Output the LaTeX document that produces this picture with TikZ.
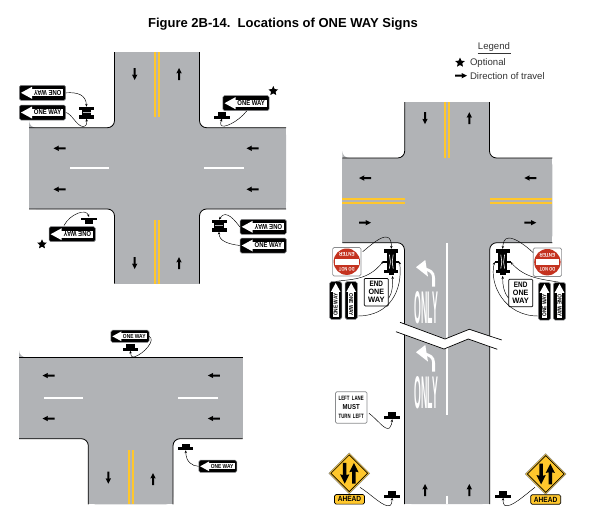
\documentclass[tikz,border=0pt]{standalone}
\usepackage{fontspec}
\setmainfont{Liberation Sans}
\usetikzlibrary{arrows.meta,shapes.geometric}
\definecolor{roadgray}{HTML}{B1B3B6}
\definecolor{lineyellow}{HTML}{FFC72C}
\definecolor{signred}{HTML}{C4321F}
\definecolor{rimgray}{HTML}{8A8C8E}
\tikzset{
  road/.style={fill=roadgray},
  curb/.style={draw=black,line width=0.8pt,rounded corners=7pt},
  yline/.style={draw=lineyellow,line width=1.8pt},
  wline/.style={draw=white,line width=1.7pt},
  conn/.style={draw=black,line width=0.45pt,-{Stealth[length=2.8pt,width=2.4pt]}},
  signbody/.style={rectangle,rounded corners=1.6pt,fill=black,draw=rimgray,line width=0.5pt,inner sep=0pt},
  postbase/.style={rectangle,inner sep=0pt},
  whitesign/.style={rectangle,rounded corners=1.5pt,fill=white,draw=rimgray,line width=0.7pt,inner sep=0pt},
  plain/.style={inner sep=0pt,outer sep=0pt},
  starmark/.style={star,star points=5,star point ratio=2.1,fill=black,inner sep=0pt,minimum size=10pt},
  lab/.style={inner sep=0pt,outer sep=0pt,font=\fontsize{9.6}{11}\selectfont,text=black!80},
}
\newcommand{\fitw}[3]{\resizebox{#1pt}{#2pt}{\bfseries #3}}
% name x y scale rotate textangle
\newcommand{\oneway}[6]{%
  \node[signbody,minimum width={46.4pt*#4},minimum height={15pt*#4},rotate=#5] (#1) at (#2,#3) {};
  \begin{scope}[shift={(#1.center)},rotate=#5,scale=#4]
    \fill[white] (-21.5,0) -- (-10.5,-6) -- (-10.5,6) -- cycle;
    \fill[white] (-11,-3.6) rectangle (20.8,3.6);
    \node[plain,transform shape,rotate=#6] (#1t) at (5.2,0) {\fitw{27.5}{5}{ONE WAY}};
  \end{scope}}
% road direction arrow: x y angle scale
\newcommand{\darr}[4]{%
  \begin{scope}[shift={(#1,#2)},rotate=#3,scale=#4]
    \fill[black] (-6,-1) -- (1,-1) -- (0.6,-2.7) -- (6,0) -- (0.6,2.7) -- (1,1) -- (-6,1) -- cycle;
  \end{scope}}
% single support: name x y flip
\newcommand{\postS}[4]{%
  \node[postbase,minimum width=15.5pt,minimum height=6.6pt] (#1) at (#2,#3) {};
  \begin{scope}[shift={(#1.center)},yscale=#4]
    \fill[black] (-7.75,0.4) rectangle (7.75,3.3);
    \fill[black] (-4.2,-3.3) rectangle (4.2,0.5);
  \end{scope}}
% double support, small
\newcommand{\postD}[3]{%
  \node[postbase,minimum width=15pt,minimum height=11.6pt] (#1) at (#2,#3) {};
  \begin{scope}[shift={(#1.center)}]
    \fill[black] (-7.5,-5.8) rectangle (7.5,-2.5);
    \fill[black] (-7.5,2.5) rectangle (7.5,5.8);
    \fill[black] (-4.7,-2.6) rectangle (4.7,2.6);
    \fill[roadgray] (-4,-0.3) rectangle (4,0.3);
  \end{scope}}
% double support, tall
\newcommand{\postT}[3]{%
  \node[postbase,minimum width=14pt,minimum height=26pt] (#1) at (#2,#3) {};
  \begin{scope}[shift={(#1.center)}]
    \fill[black] (-7,-13) rectangle (7,-9.4);
    \fill[black] (-7,8) rectangle (7,11.4);
    \fill[black] (-2.8,11) rectangle (2.8,13);
    \fill[black] (-4.6,-10) rectangle (4.6,9);
    \fill[black] (-8,-1) rectangle (-3.5,1);
    \fill[black] (3.5,-1) rectangle (8,1);
    \fill[white] (-2.2,-7.5) -- (-1.6,-7.5) -- (-0.6,0) -- (-1.6,6.5) -- (-2.2,6.5) -- (-1.2,0) -- cycle;
    \fill[white] (2.2,-7.5) -- (1.6,-7.5) -- (0.6,0) -- (1.6,6.5) -- (2.2,6.5) -- (1.2,0) -- cycle;
  \end{scope}}
% do not enter
\newcommand{\dne}[3]{%
  \node[whitesign,minimum width=28.4pt,minimum height=28.4pt] (#1) at (#2,#3) {};
  \begin{scope}[shift={(#1.center)}]
    \fill[signred] (0,0) circle (13.2pt);
    \fill[white] (-11.8,-3) rectangle (11.8,3);
    \node[plain,text=white,rotate=180] (#1a) at (0,7.4) {\fitw{15.5}{3.6}{DO NOT}};
    \node[plain,text=white,rotate=180] (#1b) at (0,-7.4) {\fitw{15.5}{3.6}{ENTER}};
  \end{scope}}
% end one way
\newcommand{\eowsign}[3]{%
  \node[rectangle,rounded corners=1pt,fill=white,draw=black,line width=0.7pt,inner sep=0pt,minimum width=24pt,minimum height=27.6pt] (#1) at (#2,#3) {};
  \node[plain] (#1a) at ([yshift=8pt]#1.center) {\fitw{13.5}{5.4}{END}};
  \node[plain] (#1b) at (#1.center) {\fitw{15.5}{5.4}{ONE}};
  \node[plain] (#1c) at ([yshift=-8pt]#1.center) {\fitw{16.5}{5.4}{WAY}};}
% two-way ahead
\newcommand{\twoway}[5]{%
  \node[diamond,aspect=1,minimum size=41pt,inner sep=0pt,fill=lineyellow,draw=rimgray,line width=0.5pt] (#1) at (#2,#3) {};
  \node[diamond,aspect=1,minimum size=37pt,inner sep=0pt,draw=black,line width=0.7pt] (#1i) at (#1.center) {};
  \darr{#2-4.6}{#3}{-90}{1.72}
  \darr{#2+4.6}{#3}{90}{1.72}
  \node[rectangle,rounded corners=1.5pt,fill=lineyellow,draw=black,line width=0.7pt,inner sep=0pt,minimum width=30pt,minimum height=9.6pt] (#1p) at (#4,#5) {\fitw{23.5}{5.2}{AHEAD}};}
% turn arrow + ONLY, dy offset
\newcommand{\onlymark}[2]{%
  \begin{scope}[shift={(0,#1)}]
    \draw[white,line width=2.8pt] (433.6,286.7) -- (433.6,278) .. controls (433.6,272) and (430,270) .. (423,268.5);
    \fill[white] (416,267.2) -- (425.3,260) -- (428,276.6) -- cycle;
    \node[plain,text=white] (#2) at (426.2,307.5) {\resizebox{23.5pt}{32pt}{\bfseries ONLY}};
  \end{scope}}
\begin{document}
\begin{tikzpicture}[x=1pt,y=-1pt]
\useasboundingbox (0,0) rectangle (590,525);

\node[plain,font=\fontsize{13}{15}\selectfont\bfseries] (title) at (283,24) {Figure 2B-14.\ \ Locations of ONE WAY Signs};

% legend
\node[lab] (lgd) at (494,47) {Legend};
\draw[line width=0.5pt,black!80] (477.5,53.6) -- (510.5,53.6);
\node[starmark] (lgs) at (460,62.6) {};
\node[lab,anchor=west] (lg1) at (470,63) {Optional};
\darr{461}{75.7}{0}{1}
\node[lab,anchor=west] (lg2) at (470,75.7) {Direction of travel};

% ---- four-way intersection
\fill[road,rounded corners=7pt] (29,127.7) -| (114.5,52) -| (199.5,127.7) -| (286,209) -| (199.5,283.7) -| (114.5,209) -| (29,127.7) -- cycle;
\fill[road] (29,127.7) rectangle (286,209);
\fill[road] (114.5,52) rectangle (199.5,283.7);
\draw[curb] (29,127.7) -| (114.5,52);
\draw[curb] (199.5,52) |- (286,127.7);
\draw[curb] (29,209) -| (114.5,283.7);
\draw[curb] (199.5,283.7) |- (286,209);
\draw[yline] (155.1,52) -- (155.1,116.7);
\draw[yline] (158.9,52) -- (158.9,116.7);
\draw[yline] (155.1,220) -- (155.1,283.7);
\draw[yline] (158.9,220) -- (158.9,283.7);
\draw[wline] (70,168) -- (109.3,168);
\draw[wline] (204,168) -- (243.7,168);
\darr{59.5}{148.3}{180}{1}
\darr{59.5}{189.3}{180}{1}
\darr{252.5}{148.3}{180}{1}
\darr{252.5}{189.3}{180}{1}
\darr{134.7}{74}{-90}{1}
\darr{179}{74}{90}{1}
\darr{134.7}{263}{-90}{1}
\darr{179}{263}{90}{1}

\oneway{a1}{42.5}{92.8}{1}{0}{180}
\oneway{a2}{42.5}{112.5}{1}{0}{0}
\postD{pa}{86.5}{112.7}
\draw[conn] (a1.east) .. controls (78,92) and (86,95) .. (pa.north);
\draw[conn] (a2.east) .. controls (72,114) and (77,126.5) .. (83,126.5) .. controls (87,126.5) and (86.8,123) .. (pa.south);

\oneway{c1}{246}{103.2}{1}{0}{0}
\postS{pc}{222}{115.2}{1}
\node[starmark] (cs) at (273.3,91) {};
\draw[conn] (246.7,111) .. controls (238,122) and (223,129) .. (221,125) .. controls (220.4,124) and (220.6,122) .. (pc.south);

\oneway{d1}{72.2}{234.2}{1}{0}{180}
\postS{pd}{89.2}{220.8}{-1}
\node[starmark] (ds) at (42,244.3) {};
\draw[conn] (64,225.5) .. controls (70,214) and (86,208) .. (89,216.9);

\oneway{e1}{263.2}{226.8}{1}{0}{180}
\oneway{f1}{263.2}{245.5}{1}{0}{0}
\postD{pe}{219}{225.7}
\draw[conn] (e1.west) .. controls (236,222) and (226,208) .. (pe.north);
\draw[conn] (f1.west) .. controls (228,244) and (219,241) .. (pe.south);

% ---- T intersection
\fill[road,rounded corners=7pt] (19,357.3) -| (242.7,438.7) -| (173,504.3) -| (88.3,438.7) -| (19,357.3) -- cycle;
\fill[road] (19,357.3) rectangle (242.7,438.7);
\fill[road] (88.3,430) rectangle (173,504.3);
\draw[curb] (19,357.3) -- (242.7,357.3);
\draw[curb] (19,438.7) -| (88.3,504.3);
\draw[curb] (173,504.3) |- (242.7,438.7);
\draw[yline] (129.1,450) -- (129.1,504.3);
\draw[yline] (132.9,450) -- (132.9,504.3);
\draw[wline] (44,398.3) -- (83.3,398.3);
\draw[wline] (178.3,398.3) -- (217.7,398.3);
\darr{48.5}{375.5}{180}{1}
\darr{48.5}{418.5}{180}{1}
\darr{213.8}{375.5}{180}{1}
\darr{213.8}{418.5}{180}{1}
\darr{108.3}{477.7}{-90}{1}
\darr{153}{479}{90}{1}

\oneway{t1}{130}{336.3}{0.82}{0}{0}
\postS{pt}{130.3}{347.2}{1}
\draw[conn] (t1.east) .. controls (156,340) and (144,354) .. (134,357) .. controls (131,357.6) and (130.6,354) .. (pt.south);
\oneway{t2}{217.8}{466.3}{0.82}{0}{0}
\postS{pu}{185.7}{446.8}{1}
\draw[conn] (t2.west) .. controls (192,466) and (186,462) .. (pu.south);

% ---- right road
\fill[road,rounded corners=7pt] (342.3,158) -| (404.7,102) -| (489.5,158) -| (552.3,242.7) -| (489.7,504) -| (404.4,242.7) -| (342.3,158) -- cycle;
\fill[road] (342.3,158) rectangle (552.3,242.7);
\fill[road] (404.5,102) rectangle (489.6,504);
\draw[curb] (342.3,158) -| (404.7,102);
\draw[curb] (489.5,102) |- (552.3,158);
\draw[curb] (342.3,242.7) -| (404.4,504);
\draw[curb] (489.7,504) |- (552.3,242.7);
\draw[yline] (445.2,102) -- (445.2,158.3);
\draw[yline] (449,102) -- (449,158.3);
\draw[yline] (342.3,198.8) -- (405,198.8);
\draw[yline] (342.3,202.6) -- (405,202.6);
\draw[yline] (489.7,198.8) -- (552.3,198.8);
\draw[yline] (489.7,202.6) -- (552.3,202.6);
\darr{365}{178}{180}{1}
\darr{530.3}{178}{180}{1}
\darr{365}{222.7}{0}{1}
\darr{530.3}{222.7}{0}{1}
\darr{425}{118.2}{-90}{1}
\darr{469.3}{118.2}{90}{1}
\draw[wline] (447.3,243.3) -- (447.3,415.3);
\draw[wline] (447.3,495.7) -- (447.3,504);
\onlymark{0}{only1}
\onlymark{85}{only2}
\darr{425}{490}{90}{1}
\darr{469.3}{490}{90}{1}

% break line
\fill[white] (400,322.3) -- (445,339) -- (469.3,329.3) -- (501.7,340) -- (497.3,349.3) -- (468.3,339) -- (444,349) -- (396,331.7) -- cycle;
\draw[black,line width=0.7pt] (400,322.3) -- (445,339) -- (469.3,329.3) -- (501.7,340);
\draw[black,line width=0.7pt] (396,331.7) -- (444,349) -- (468.3,339) -- (497.3,349.3);

% left signal group
\dne{n1}{346.8}{261.7}
\postT{pn}{391.3}{262}
\oneway{n2}{335.7}{300.5}{0.81}{-90}{180}
\oneway{n3}{351.2}{300.5}{0.81}{-90}{0}
\eowsign{n4}{376.3}{292.2}
\draw[conn] (362.7,251.7) .. controls (372,244) and (380,237) .. (386,237) .. controls (391,237) and (391.5,243) .. (pn.north);
\draw[conn] (n2.west) .. controls (350,279) and (368,281) .. (383.5,261);
\draw[conn] (357.8,316) .. controls (390,316) and (403,290) .. (399.5,261.5);
\draw[conn] (388.6,298.3) .. controls (392,294) and (393,285) .. (392.5,276);

% right signal group
\dne{m1}{547.4}{262.2}
\postT{pm}{502.7}{262}
\oneway{m2}{544.5}{301.3}{0.81}{-90}{180}
\oneway{m3}{559.5}{301.3}{0.81}{-90}{0}
\eowsign{m4}{520.7}{293}
\draw[conn] (533,252.5) .. controls (525,245) and (515,238) .. (509,238) .. controls (504,238) and (503,243) .. (pm.north);
\draw[conn] (m3.west) .. controls (540,279) and (525,278) .. (510.5,262);
\draw[conn] (538,316) .. controls (505,316) and (489,285) .. (494.5,262);
\draw[conn] (508.4,298) .. controls (504,293) and (502.5,285) .. (502.7,276);

% left lane must turn left
\node[whitesign,minimum width=31.6pt,minimum height=31.6pt] (ll) at (351.2,407.5) {};
\node[plain] (ll1) at (351.2,398.5) {\fitw{25}{4.3}{LEFT\ \ LANE}};
\node[plain] (ll2) at (351.2,407.3) {\fitw{17}{5}{MUST}};
\node[plain] (ll3) at (351.2,416.2) {\fitw{25}{4.3}{TURN\ \ LEFT}};
\postS{pl}{392.2}{415.7}{1}
\draw[conn] (369,413.3) .. controls (378,420) and (385,431) .. (389.5,428) .. controls (392,426) and (391.8,422) .. (pl.south);

\twoway{w1}{349.3}{473.3}{349.5}{499.3}
\postS{pw}{392.2}{494.2}{1}
\draw[conn] (360,487.3) .. controls (372,495) and (384,508) .. (390,505.5) .. controls (392,504.5) and (392,500) .. (pw.south);
\twoway{w2}{545.7}{474}{545.7}{499.5}
\postS{px}{503.2}{494.2}{1}
\draw[conn] (535,487.3) .. controls (525,495) and (511,508) .. (505,505.5) .. controls (503,504.5) and (503,500) .. (px.south);
\end{tikzpicture}
\end{document}
